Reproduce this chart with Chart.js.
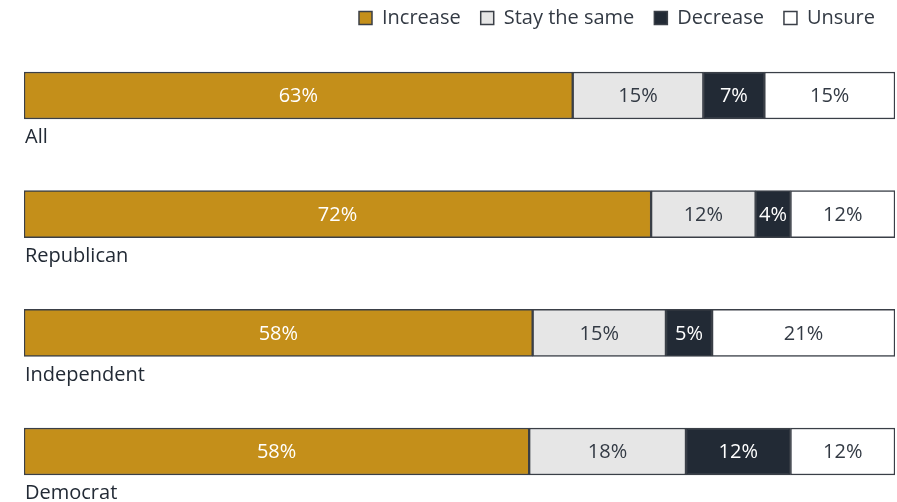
<!DOCTYPE html>
<html>
<head>
<meta charset="utf-8">
<script src="https://cdn.jsdelivr.net/npm/chart.js@4.4.0/dist/chart.umd.min.js"></script>
<style>
  html, body { margin: 0; padding: 0; background: #fff; overflow: hidden; }
  canvas { display: block; }
</style>
</head>
<body>
<canvas id="partyChart" width="897" height="502"></canvas>
<script>
// Chart data
const categories = ['All', 'Republican', 'Independent', 'Democrat'];
const seriesNames = ['Increase', 'Stay the same', 'Decrease', 'Unsure'];
const increase = [63, 72, 58.4, 58];
const staySame = [15, 12, 15.3, 18];
const decrease = [7, 4, 5.3, 12];
const unsure = [15, 12, 21, 12];

const fills = ['#C48F1A', '#E6E6E6', '#222A35', '#FFFFFF'];
const labelColors = ['#FFFFFF', '#333A44', '#FFFFFF', '#333A44'];
const edge = '#3A3F47';
const fontFamily = '"Open Sans", "Noto Sans", sans-serif';

const seriesValues = [increase, staySame, decrease, unsure];

function makeDataset(i) {
    return {
        label: seriesNames[i],
        data: seriesValues[i].map((v, k) => ({ x: v, y: k })),
        backgroundColor: fills[i],
        borderColor: edge,
        borderWidth: 1.5,
        borderSkipped: false,
        barThickness: 47
    };
}

// Percent labels inside the bars + category names under each bar
const barText = {
    id: 'barText',
    afterDatasetsDraw(chart) {
        const ctx = chart.ctx;
        ctx.save();
        ctx.textAlign = 'center';
        ctx.textBaseline = 'middle';
        ctx.font = '20px ' + fontFamily;
        chart.data.datasets.forEach((ds, i) => {
            const meta = chart.getDatasetMeta(i);
            meta.data.forEach((bar, k) => {
                const left = Math.min(bar.x, bar.base);
                const right = Math.max(bar.x, bar.base);
                ctx.fillStyle = labelColors[i];
                ctx.fillText(Math.round(seriesValues[i][k]) + '%', (left + right) / 2, bar.y + 1);
            });
        });
        const yScale = chart.scales.y;
        ctx.textAlign = 'left';
        ctx.fillStyle = '#222A35';
        ctx.font = '20px ' + fontFamily;
        categories.forEach((name, k) => {
            const y = yScale.getPixelForValue(k) + 42;
            ctx.fillText(name, 25, y);
        });
        ctx.restore();
    }
};

new Chart(document.getElementById('partyChart'), {
    type: 'bar',
    data: {
        datasets: [0, 1, 2, 3].map(makeDataset)
    },
    options: {
        indexAxis: 'y',
        responsive: false,
        animation: false,
        layout: { padding: { left: 24, right: 2, top: -12, bottom: 0 } },
        scales: {
            x: { stacked: true, min: 0, max: 100, display: false },
            // rows sit at 0..3; the range is set so the bars land where the original has them
            y: { type: 'linear', stacked: true, reverse: true, offset: false, min: -0.4845, max: 3.4255, display: false }
        },
        plugins: {
            legend: {
                position: 'top',
                align: 'end',
                labels: {
                    boxWidth: 13,
                    boxHeight: 13,
                    padding: 20,
                    color: '#333A44',
                    font: { family: fontFamily, size: 20 }
                }
            },
            tooltip: { enabled: false }
        }
    },
    plugins: [barText]
});
</script>
</body>
</html>
